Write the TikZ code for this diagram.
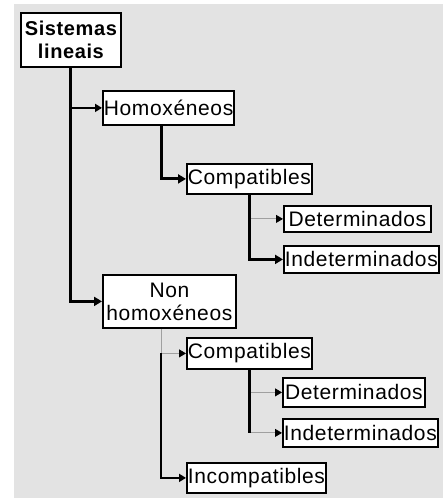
\documentclass[tikz,border=0pt]{standalone}
\usepackage{fontspec}
\setmainfont[LetterSpace=3]{Liberation Sans}
\usetikzlibrary{arrows.meta}
\usetikzlibrary{positioning}
\definecolor{bggray}{HTML}{E3E3E3}
\definecolor{linegray}{HTML}{A0A0A0}

\begin{document}
\begin{tikzpicture}[x=1pt,y=-1pt,
	box/.style={draw,line width=1.8pt,fill=white,anchor=north west,inner sep=1pt,
		font=\fontsize{21}{23}\selectfont,align=center},
	heavy/.style={line width=3pt,-{Triangle[length=8pt,width=9pt]}},
	medium/.style={line width=2pt,-{Triangle[length=7pt,width=8pt]}},
	light/.style={line width=0.9pt,draw=linegray,-{Triangle[length=7pt,width=8pt,black]}}]
		%%background
		\useasboundingbox (0,0) rectangle (447,498);
		\fill[bggray] (14,4) rectangle (443,498);
		%%nodes
		\node[box,minimum width=100pt,minimum height=54pt,font=\fontsize{20}{23}\selectfont\bfseries] (sys) at (20,12) {Sistemas\\lineais};
		\node[box,minimum width=131pt,minimum height=34pt] (hom) at (102,90) {Homoxéneos};
		\node[box,minimum width=121pt,minimum height=30pt] (comp1) at (186,163) {Compatibles};
		\node[box,minimum width=147pt,minimum height=26pt] (det1) at (283,205) {Determinados};
		\node[box,minimum width=154pt,minimum height=27pt] (ind1) at (283,245) {Indeterminados};
		\node[box,minimum width=133pt,minimum height=53pt] (non) at (102,274) {Non\\homoxéneos};
		\node[box,minimum width=124pt,minimum height=31pt] (comp2) at (186,337) {Compatibles};
		\node[box,minimum width=142pt,minimum height=29pt] (det2) at (282,377) {Determinados};
		\node[box,minimum width=152pt,minimum height=28pt] (ind2) at (282,418) {Indeterminados};
		\node[box,minimum width=139pt,minimum height=30pt] (inc) at (186,462) {Incompatibles};
		\coordinate (nsplit) at ([xshift=-8pt]non.south |- comp2.west);
		%%connectors
		\draw[medium] (sys.south |- hom.west) -- (hom.west);
		\draw[heavy] (sys.south) |- (non.west);
		\draw[heavy] ([xshift=-7pt]hom.south) |- (comp1.west);
		\draw[light] (comp1.south |- det1.west) -- (det1.west);
		\draw[heavy] (comp1.south) |- (ind1.west);
		\draw[light] ([xshift=-8pt]non.south) |- (comp2.west);
		\draw[medium] (nsplit) |- (inc.west);
		\draw[light] (comp2.south |- det2.west) -- (det2.west);
		\draw[light] (comp2.south |- ind2.west) -- (ind2.west);
		\draw[line width=3pt] (comp2.south) -- (comp2.south |- ind2.west);
	\end{tikzpicture}
\end{document}
